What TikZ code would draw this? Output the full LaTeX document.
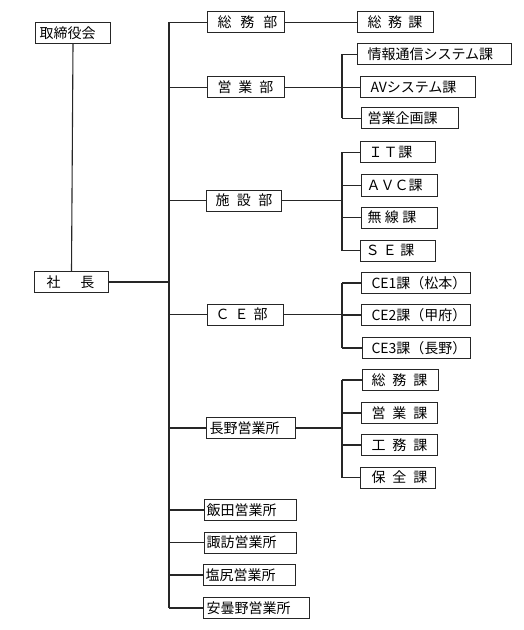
\documentclass[tikz,border=0pt]{standalone}
\usepackage{fontspec}
\setmainfont{Noto Sans CJK JP}
\newcommand\bx[3]{\makebox[#1bp][l]{\hspace*{#2bp}#3}}
\newcommand\gp[1]{\hspace*{#1bp}}
\begin{document}
\begin{tikzpicture}[x=1bp,y=-1bp,
  box/.style={draw=black!85, line width=1bp, anchor=west, inner sep=0pt, minimum height=21bp,
    font=\fontsize{14bp}{16bp}\selectfont},
  conn/.style={draw=black!85, line width=1.1bp}]
\useasboundingbox (0,0) rectangle (524,630);
% top level
\node[box] (tori) at (35,33) {\bx{75}{4}{取締役会}};
\node[box] (shacho) at (34,282) {\bx{74}{12}{社\gp{20}長}};
% departments
\node[box] (soumubu) at (207,22.5) {\bx{77}{10}{総\gp{9}務\gp{9}部}};
\node[box] (eigyobu) at (207,87.5) {\bx{77}{10}{営\gp{7}業\gp{7}部}};
\node[box] (shisetsubu) at (206,200.5) {\bx{75}{9}{施\gp{7.5}設\gp{7.5}部}};
\node[box] (cebu) at (207,314.5) {\bx{76}{8}{Ｃ\gp{5}Ｅ\gp{5}部}};
\node[box] (nagano) at (206,428) {\bx{89}{3}{長野営業所}};
\node[box] (iida) at (204,510) {\bx{92}{2}{飯田営業所}};
\node[box] (suwa) at (204,542.5) {\bx{92}{2}{諏訪営業所}};
\node[box] (shiojiri) at (203,575) {\bx{92}{2}{塩尻営業所}};
\node[box] (azumino) at (203,608) {\bx{106}{3}{安曇野営業所}};
% sections
\node[box] (soumuka1) at (357,22.5) {\bx{76}{10}{総\gp{6.5}務\gp{6.5}課}};
\node[box] (jouhou) at (357,54.5) {\bx{154}{10}{情報通信システム課}};
\node[box] (av) at (360,87.5) {\bx{115}{10}{AVシステム課}};
\node[box] (kikaku) at (361,118.5) {\bx{97}{6}{営業企画課}};
\node[box] (it) at (360,152.5) {\bx{75}{8}{Ｉ\gp{1}Ｔ\gp{1}課}};
\node[box] (avc) at (361,185.5) {\bx{76}{5}{ＡＶＣ課}};
\node[box] (musen) at (361,217.5) {\bx{76}{6}{無\gp{3.5}線\gp{3.5}課}};
\node[box] (se) at (360,250.5) {\bx{75}{5}{Ｓ\gp{3.5}Ｅ\gp{3.5}課}};
\node[box] (ce1) at (361,283) {\bx{109}{10}{CE1課（松本）}};
\node[box] (ce2) at (361,315) {\bx{109}{10}{CE2課（甲府）}};
\node[box] (ce3) at (362,348) {\bx{108}{9}{CE3課（長野）}};
\node[box] (soumuka2) at (362,380) {\bx{76}{9}{総\gp{7}務\gp{7}課}};
\node[box] (eigyoka) at (361,413) {\bx{76}{10}{営\gp{7}業\gp{7}課}};
\node[box] (koumu) at (361,445) {\bx{76}{10}{工\gp{7}務\gp{7}課}};
\node[box] (hozen) at (360,477.5) {\bx{75}{11}{保\gp{7}全\gp{7}課}};
% branch coordinates
\coordinate (t) at (169,0);
\coordinate (b) at (342,0);
% connectors
\draw[conn] (tori.south) -- (shacho.north);
\draw[conn] (shacho.east) -- (shacho.east -| t);
\draw[conn] (soumubu.west -| t) -- (azumino.west -| t);
\foreach \n in {soumubu,eigyobu,shisetsubu,cebu,nagano,iida,suwa,shiojiri,azumino}
  \draw[conn] (\n.west -| t) -- (\n.west);
\draw[conn] (soumubu.east) -- (soumuka1.west);
% eigyo
\draw[conn] (eigyobu.east) -- (eigyobu.east -| b);
\draw[conn] (jouhou.west -| b) -- (kikaku.west -| b);
\foreach \n in {jouhou,av,kikaku} \draw[conn] (\n.west -| b) -- (\n.west);
% shisetsu
\draw[conn] (shisetsubu.east) -- (shisetsubu.east -| b);
\draw[conn] (it.west -| b) -- (se.west -| b);
\foreach \n in {it,avc,musen,se} \draw[conn] (\n.west -| b) -- (\n.west);
% CE
\draw[conn] (cebu.east) -- (cebu.east -| b);
\draw[conn] (ce1.west -| b) -- (ce3.west -| b);
\foreach \n in {ce1,ce2,ce3} \draw[conn] (\n.west -| b) -- (\n.west);
% nagano
\draw[conn] (nagano.east) -- (nagano.east -| b);
\draw[conn] (soumuka2.west -| b) -- (hozen.west -| b);
\foreach \n in {soumuka2,eigyoka,koumu,hozen} \draw[conn] (\n.west -| b) -- (\n.west);
\end{tikzpicture}
\end{document}
